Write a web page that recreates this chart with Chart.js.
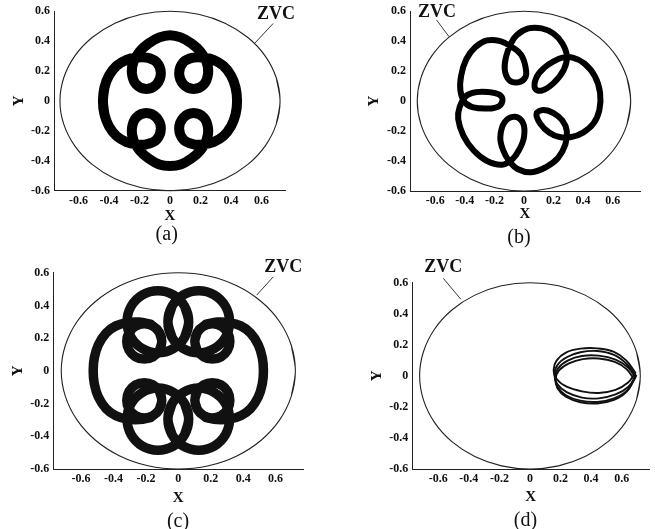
<!DOCTYPE html>
<html>
<head>
<meta charset="utf-8">
<script src="https://cdn.jsdelivr.net/npm/chart.js@4.4.1/dist/chart.umd.min.js"></script>
<style>
  html,body{margin:0;padding:0;background:#fff;}
  body{width:655px;height:529px;position:relative;overflow:hidden;}
  canvas{position:absolute;}
</style>
</head>
<body>
<canvas id="ca" width="327" height="250" style="left:0px;top:0px"></canvas>
<canvas id="cb" width="328" height="250" style="left:327px;top:0px"></canvas>
<canvas id="cc" width="327" height="279" style="left:0px;top:250px"></canvas>
<canvas id="cd" width="328" height="279" style="left:327px;top:250px"></canvas>
<script>
// ---------------- data ----------------
const tickValues = [-0.6, -0.4, -0.2, 0, 0.2, 0.4, 0.6];
const tickLabels = ['-0.6', '-0.4', '-0.2', '0', '0.2', '0.4', '0.6'];
const axisTitles = ['X', 'Y'];
const panelCaptions = ['(a)', '(b)', '(c)', '(d)'];
const zvcLabel = 'ZVC';

// zero velocity curve
const zvc = [[0.697,-0.155],[0.722,0],[0.697,0.155],[0.625,0.3],[0.511,0.424],[0.361,0.52],[0.187,0.58],[0,0.6],
  [-0.187,0.58],[-0.361,0.52],[-0.511,0.424],[-0.625,0.3],[-0.697,0.155],[-0.722,0],[-0.697,-0.155],[-0.625,-0.3],
  [-0.511,-0.424],[-0.361,-0.52],[-0.187,-0.58],[0,-0.6],[0.187,-0.58],[0.361,-0.52],[0.511,-0.424],[0.625,-0.3],
  [0.697,-0.155],[0.722,0],[0.697,0.155]];

// (a) four-loop orbit
const orbitA = [[-0.43,-0.09],
  [-0.44,0],[-0.43,0.09],[-0.4,0.17],[-0.35,0.235],[-0.285,0.275],[-0.22,0.29],[-0.155,0.29],[-0.088,0.259],[-0.06,0.185],[-0.088,0.111],[-0.155,0.08],[-0.222,0.111],[-0.25,0.185],[-0.24,0.26],[-0.2,0.33],[-0.14,0.385],[-0.07,0.425],
  [0,0.44],[0.07,0.425],[0.14,0.385],[0.2,0.33],[0.24,0.26],[0.25,0.185],[0.222,0.111],[0.155,0.08],[0.088,0.111],[0.06,0.185],[0.088,0.259],[0.155,0.29],[0.22,0.29],[0.285,0.275],[0.35,0.235],[0.4,0.17],[0.43,0.09],
  [0.44,0],[0.43,-0.09],[0.4,-0.17],[0.35,-0.235],[0.285,-0.275],[0.22,-0.29],[0.155,-0.29],[0.088,-0.259],[0.06,-0.185],[0.088,-0.111],[0.155,-0.08],[0.222,-0.111],[0.25,-0.185],[0.24,-0.26],[0.2,-0.33],[0.14,-0.385],[0.07,-0.425],
  [0,-0.435],[-0.07,-0.425],[-0.14,-0.385],[-0.2,-0.33],[-0.24,-0.26],[-0.25,-0.185],[-0.222,-0.111],[-0.155,-0.08],[-0.088,-0.111],[-0.06,-0.185],[-0.088,-0.259],[-0.155,-0.29],[-0.22,-0.29],[-0.285,-0.275],[-0.35,-0.235],[-0.4,-0.17],[-0.43,-0.09],
  [-0.44,0],[-0.43,0.09]];

// (b) five-loop orbit
const orbitB = [[-0.25,-0.05],
  [-0.35,-0.04],[-0.40,-0.01],[-0.43,0.07],[-0.425,0.17],[-0.39,0.28],[-0.33,0.36],[-0.25,0.405],[-0.16,0.40],[-0.08,0.36],
  [-0.02,0.31],[0.01,0.23],[0.01,0.16],[-0.04,0.125],[-0.10,0.14],[-0.13,0.21],[-0.12,0.30],[-0.09,0.38],
  [-0.05,0.44],[0.03,0.485],[0.12,0.485],[0.2,0.45],[0.26,0.385],[0.29,0.30],
  [0.27,0.21],[0.2,0.12],[0.12,0.07],[0.075,0.085],[0.085,0.16],[0.14,0.225],[0.2,0.265],[0.26,0.29],
  [0.33,0.29],[0.41,0.25],[0.48,0.165],[0.515,0.055],[0.51,-0.06],[0.47,-0.15],[0.40,-0.21],[0.32,-0.24],
  [0.24,-0.24],[0.17,-0.21],[0.11,-0.15],[0.085,-0.085],[0.13,-0.06],[0.2,-0.08],[0.26,-0.13],[0.29,-0.2],
  [0.28,-0.29],[0.23,-0.38],[0.15,-0.44],[0.05,-0.475],[-0.04,-0.455],[-0.10,-0.40],
  [-0.14,-0.33],[-0.16,-0.24],[-0.13,-0.14],[-0.06,-0.105],[-0.005,-0.15],[0.0,-0.24],[-0.03,-0.32],[-0.08,-0.39],
  [-0.15,-0.425],[-0.25,-0.40],[-0.34,-0.33],[-0.41,-0.23],[-0.445,-0.12],[-0.435,-0.04],
  [-0.39,0.035],[-0.32,0.06],[-0.24,0.06],[-0.17,0.045],[-0.145,0.01],[-0.17,-0.035],[-0.25,-0.05],
  [-0.35,-0.04],[-0.40,-0.01]];

// (c) eight-loop orbit, read as its loops and lobes
const cTopLeft = [[0.039,0.205],[0.064,0.3],[0.039,0.395],[-0.031,0.465],[-0.126,0.49],[-0.221,0.465],[-0.291,0.395],[-0.316,0.3],[-0.291,0.205],[-0.221,0.136],[-0.126,0.11],[-0.031,0.136],[0.039,0.205],[0.064,0.3],[0.039,0.395]];
const cTopRight = [[-0.039,0.205],[-0.064,0.3],[-0.039,0.395],[0.031,0.465],[0.126,0.49],[0.221,0.465],[0.291,0.395],[0.316,0.3],[0.291,0.205],[0.221,0.136],[0.126,0.11],[0.031,0.136],[-0.039,0.205],[-0.064,0.3],[-0.039,0.395]];
const cBottomLeft = [[0.039,-0.2],[0.064,-0.295],[0.039,-0.39],[-0.031,-0.46],[-0.126,-0.485],[-0.221,-0.46],[-0.291,-0.39],[-0.316,-0.295],[-0.291,-0.2],[-0.221,-0.131],[-0.126,-0.105],[-0.031,-0.131],[0.039,-0.2],[0.064,-0.295],[0.039,-0.39]];
const cBottomRight = [[-0.039,-0.2],[-0.064,-0.295],[-0.039,-0.39],[0.031,-0.46],[0.126,-0.485],[0.221,-0.46],[0.291,-0.39],[0.316,-0.295],[0.291,-0.2],[0.221,-0.131],[0.126,-0.105],[0.031,-0.131],[-0.039,-0.2],[-0.064,-0.295],[-0.039,-0.39]];
const cRingUL = [[-0.116,0.126],[-0.102,0.18],[-0.116,0.234],[-0.156,0.274],[-0.21,0.288],[-0.264,0.274],[-0.304,0.234],[-0.318,0.18],[-0.304,0.126],[-0.264,0.086],[-0.21,0.072],[-0.156,0.086],[-0.116,0.126],[-0.102,0.18],[-0.116,0.234]];
const cRingUR = [[0.116,0.126],[0.102,0.18],[0.116,0.234],[0.156,0.274],[0.21,0.288],[0.264,0.274],[0.304,0.234],[0.318,0.18],[0.304,0.126],[0.264,0.086],[0.21,0.072],[0.156,0.086],[0.116,0.126],[0.102,0.18],[0.116,0.234]];
const cRingLL = [[-0.116,-0.126],[-0.102,-0.18],[-0.116,-0.234],[-0.156,-0.274],[-0.21,-0.288],[-0.264,-0.274],[-0.304,-0.234],[-0.318,-0.18],[-0.304,-0.126],[-0.264,-0.086],[-0.21,-0.072],[-0.156,-0.086],[-0.116,-0.126],[-0.102,-0.18],[-0.116,-0.234]];
const cRingLR = [[0.116,-0.126],[0.102,-0.18],[0.116,-0.234],[0.156,-0.274],[0.21,-0.288],[0.264,-0.274],[0.304,-0.234],[0.318,-0.18],[0.304,-0.126],[0.264,-0.086],[0.21,-0.072],[0.156,-0.086],[0.116,-0.126],[0.102,-0.18],[0.116,-0.234]];
const cLobeLeft = [[-0.17,0.285],[-0.24,0.298],[-0.315,0.295],[-0.385,0.275],[-0.445,0.232],[-0.493,0.16],[-0.518,0.08],[-0.525,0],[-0.518,-0.08],[-0.493,-0.16],[-0.445,-0.232],[-0.385,-0.275],[-0.315,-0.295],[-0.24,-0.298],[-0.17,-0.285]];
const cLobeRight = [[0.17,0.285],[0.24,0.298],[0.315,0.295],[0.385,0.275],[0.445,0.232],[0.493,0.16],[0.518,0.08],[0.525,0],[0.518,-0.08],[0.493,-0.16],[0.445,-0.232],[0.385,-0.275],[0.315,-0.295],[0.24,-0.298],[0.17,-0.285]];

// (d) strands of the one-sided orbit
const orbitD1 = [[0.69,0.02],[0.64,-0.045],[0.56,-0.09],[0.45,-0.11],[0.34,-0.1],[0.24,-0.07],[0.175,-0.02],[0.155,0.04],[0.175,0.1],[0.235,0.15],[0.33,0.175],[0.44,0.177],[0.55,0.155],[0.63,0.1],[0.69,0.02]];
const orbitD2 = [[0.695,0.0],[0.645,-0.07],[0.56,-0.12],[0.45,-0.145],[0.34,-0.14],[0.24,-0.105],[0.18,-0.055],[0.16,0.005],[0.18,0.07],[0.24,0.12],[0.33,0.152],[0.44,0.16],[0.55,0.135],[0.635,0.075],[0.695,0.0]];
const orbitD3 = [[0.69,-0.01],[0.64,-0.09],[0.55,-0.145],[0.44,-0.168],[0.33,-0.16],[0.235,-0.125],[0.18,-0.07],[0.165,-0.01],[0.185,0.05],[0.25,0.1],[0.34,0.128],[0.45,0.13],[0.56,0.105],[0.64,0.055],[0.69,-0.01]];
const orbitD4 = [[0.68,-0.02],[0.635,-0.1],[0.55,-0.155],[0.44,-0.178],[0.33,-0.17],[0.235,-0.135],[0.18,-0.08],[0.168,-0.02],[0.19,0.035],[0.255,0.08],[0.345,0.108],[0.45,0.112],[0.555,0.09],[0.63,0.045],[0.68,-0.02]];

// ---------------- drawing ----------------
const SERIF = '"Liberation Serif", "Times New Roman", Times, serif';
const INK = '#111';

function lineDS(points, width, color, tension) {
  return {
    data: points.map(p => ({x: p[0], y: p[1]})),
    showLine: true, borderColor: color, backgroundColor: color, borderWidth: width,
    pointRadius: 0, tension: tension, fill: false, clip: false,
    borderJoinStyle: 'round', borderCapStyle: 'round'
  };
}
function layered(shapes, layers, tension) {
  const out = [];
  layers.forEach(l => shapes.forEach(s => out.push(lineDS(s, l[0], l[1], tension))));
  return out;
}

const annot = {
  id: 'annot',
  afterDatasetsDraw(chart, args, o) {
    const {ctx, scales: {x, y}} = chart;
    ctx.save();
    ctx.strokeStyle = '#222';
    ctx.lineWidth = 0.9;
    ctx.beginPath();
    ctx.moveTo(x.getPixelForValue(o.lead[0][0]), y.getPixelForValue(o.lead[0][1]));
    ctx.lineTo(x.getPixelForValue(o.lead[1][0]), y.getPixelForValue(o.lead[1][1]));
    ctx.stroke();
    ctx.fillStyle = INK;
    ctx.textAlign = 'center';
    ctx.textBaseline = 'middle';
    ctx.font = 'bold 18px ' + SERIF;
    ctx.fillText(zvcLabel, x.getPixelForValue(o.label[0]), y.getPixelForValue(o.label[1]));
    ctx.font = '20px ' + SERIF;
    ctx.fillText(o.caption, o.capX, o.capY);
    ctx.restore();
  }
};

function makePanel(id, P, datasets) {
  return new Chart(document.getElementById(id), {
    type: 'scatter',
    data: {datasets: [lineDS(zvc, 1.1, '#222', 0.34)].concat(datasets)},
    options: {
      responsive: false, animation: false, events: [], devicePixelRatio: 1,
      layout: {padding: {left: 0, top: P.top, right: P.right, bottom: 0}},
      elements: {line: {capBezierPoints: false}, point: {radius: 0}},
      plugins: {legend: {display: false}, tooltip: {enabled: false}, annot: P.annot},
      scales: {
        x: {
          type: 'linear', min: P.xMin, max: P.xMax,
          grid: {display: false, drawTicks: false},
          border: {display: true, color: '#222', width: 1},
          afterBuildTicks: s => { s.ticks = tickValues.map(v => ({value: v})); },
          afterFit: s => { s.height = P.xH; },
          ticks: {autoSkip: false, maxRotation: 0, padding: 3, color: INK,
                  font: {family: SERIF, weight: 'bold', size: 12},
                  callback: (v, i) => tickLabels[i]},
          title: {display: true, text: axisTitles[0], color: INK,
                  font: {family: SERIF, weight: 'bold', size: 15},
                  padding: {top: 0, bottom: P.xTitlePad}}
        },
        y: {
          type: 'linear', min: -0.6, max: 0.6,
          grid: {display: false, drawTicks: false},
          border: {display: true, color: '#222', width: 1},
          afterBuildTicks: s => { s.ticks = tickValues.map(v => ({value: v})); },
          afterFit: s => { s.width = P.yW; },
          ticks: {autoSkip: false, padding: 4, color: INK,
                  font: {family: SERIF, weight: 'bold', size: 12},
                  callback: (v, i) => tickLabels[i]},
          title: {display: true, text: axisTitles[1], color: INK,
                  font: {family: SERIF, weight: 'bold', size: 15},
                  padding: {top: P.yTitlePad, bottom: 0}}
        }
      }
    },
    plugins: [annot]
  });
}

// panel (a)
makePanel('ca', {top: 8.3, right: 41.3, yW: 54, xH: 59.3, xMin: -0.761, xMax: 0.759, xTitlePad: 25, yTitlePad: 10,
  annot: {label: [0.695, 0.582], lead: [[0.677, 0.518], [0.557, 0.387]], caption: panelCaptions[0], capX: 166.7, capY: 235}},
  layered([orbitA], [[10, '#000'], [6.6, '#fff'], [5.6, '#000'], [2.6, '#fff'], [1.8, '#000']], 0.4));

// panel (b)
makePanel('cb', {top: 9.3, right: 15, yW: 83, xH: 59, xMin: -0.771, xMax: 0.785, xTitlePad: 27, yTitlePad: 38,
  annot: {label: [-0.589, 0.595], lead: [[-0.591, 0.541], [-0.507, 0.43]], caption: panelCaptions[1], capX: 192, capY: 238}},
  layered([orbitB], [[6, '#000'], [1.6, '#444'], [0.8, '#000']], 0.4));

// panel (c)
const cShapes = [cTopLeft, cTopRight, cBottomLeft, cBottomRight, cRingUL, cRingUR, cRingLL, cRingLR, cLobeLeft, cLobeRight];
makePanel('cc', {top: 22.7, right: 24, yW: 53.3, xH: 60, xMin: -0.771, xMax: 0.769, xTitlePad: 22, yTitlePad: 9,
  annot: {label: [0.647, 0.63], lead: [[0.586, 0.575], [0.483, 0.463]], caption: panelCaptions[2], capX: 178, capY: 272}},
  layered(cShapes, [[9.5, '#111'], [7.5, '#fff'], [5.5, '#111'], [3.5, '#fff'], [1.5, '#111']], 0.35));

// panel (d)
makePanel('cd', {top: 32.7, right: 6, yW: 85.3, xH: 60, xMin: -0.770, xMax: 0.779, xTitlePad: 22.5, yTitlePad: 41.5,
  annot: {label: [-0.567, 0.701], lead: [[-0.567, 0.628], [-0.452, 0.493]], caption: panelCaptions[3], capX: 198.5, capY: 271}},
  layered([orbitD1, orbitD2, orbitD3, orbitD4], [[1.9, '#111']], 0.4));
</script>
</body>
</html>
